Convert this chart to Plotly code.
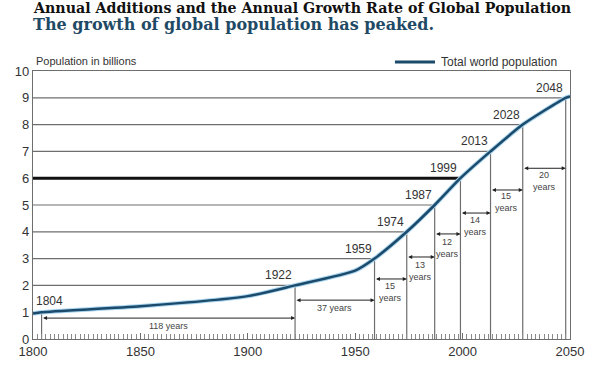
import plotly.graph_objects as go

# ---- data ----
curve_years = [1800, 1804, 1850, 1900, 1922, 1950, 1959, 1974, 1987, 1999, 2013, 2028, 2048, 2050]
curve_pop = [0.95, 1.0, 1.22, 1.6, 2.0, 2.55, 3.0, 4.0, 5.0, 6.0, 7.0, 8.0, 9.0, 9.05]

milestone_years = [1804, 1922, 1959, 1974, 1987, 1999, 2013, 2028, 2048]
milestone_pop = [1, 2, 3, 4, 5, 6, 7, 8, 9]

interval_labels = ["118 years", "37 years", "15<br>years", "13<br>years", "12<br>years",
                   "14<br>years", "15<br>years", "20<br>years"]
arrow_levels = [0.78, 1.45, 2.24, 3.06, 3.92, 4.7, 5.56, 6.37]
label_levels = [0.5, 1.15, 1.75, 2.55, 3.38, 4.2, 5.1, 5.88]

x_ticks = [1800, 1850, 1900, 1950, 2000, 2050]
y_ticks = [0, 1, 2, 3, 4, 5, 6, 7, 8, 9, 10]

GRID = "#6e6e6e"
CURVE = "#1b4a6b"
TXT = "#333333"

fig = go.Figure()

shapes = []
for yr, p in zip(milestone_years, milestone_pop):
    thick = (p == 6)
    shapes.append(dict(type="line", xref="x", yref="y", x0=1800, x1=yr, y0=p, y1=p,
                       line=dict(color="#111111" if thick else GRID, width=3 if thick else 1.2),
                       layer="below"))
    shapes.append(dict(type="line", xref="x", yref="y", x0=yr, x1=yr, y0=0, y1=p,
                       line=dict(color=GRID, width=1.2), layer="below"))

# legend sample line (drawn manually above the plot)
shapes.append(dict(type="line", xref="paper", yref="paper", x0=0.674, x1=0.7486,
                   y0=1.034, y1=1.034, line=dict(color=CURVE, width=3)))

fig.add_trace(go.Scatter(x=curve_years, y=curve_pop, mode="lines",
                         line=dict(color="#a9d4ef", width=4.5, shape="spline", smoothing=0.6),
                         showlegend=False, hoverinfo="skip"))
fig.add_trace(go.Scatter(x=curve_years, y=curve_pop, mode="lines",
                         line=dict(color=CURVE, width=2.5, shape="spline", smoothing=0.6),
                         name="Total world population", showlegend=False))

annotations = []
for yr, p in zip(milestone_years, milestone_pop):
    if yr == milestone_years[0]:
        annotations.append(dict(x=1800, y=p, xref="x", yref="y", text=str(yr), showarrow=False,
                                xanchor="left", yanchor="bottom", xshift=1, yshift=2,
                                font=dict(family="Liberation Sans", size=12, color=TXT)))
    else:
        annotations.append(dict(x=yr, y=p, xref="x", yref="y", text=str(yr), showarrow=False,
                                xanchor="right", yanchor="bottom", xshift=-1, yshift=1,
                                font=dict(family="Liberation Sans", size=12, color=TXT)))
for i, lab in enumerate(interval_labels):
    x0 = milestone_years[i]
    x1 = milestone_years[i + 1]
    h = arrow_levels[i]
    annotations.append(dict(x=x1, y=h, ax=x0, ay=h, xref="x", yref="y", axref="x", ayref="y",
                            text="", showarrow=True, arrowhead=2, startarrowhead=2,
                            arrowside="end+start", arrowsize=0.8, arrowwidth=1,
                            arrowcolor="#222222"))
    annotations.append(dict(x=(x0 + x1) / 2, y=label_levels[i], xref="x", yref="y",
                            text=lab, showarrow=False, xanchor="center", yanchor="middle",
                            font=dict(family="Liberation Sans", size=9, color="#444444")))

annotations.append(dict(xref="paper", yref="paper", x=0.7560, xanchor="left", y=1.034,
                        yanchor="middle", showarrow=False, text="Total world population",
                        font=dict(family="Liberation Sans", size=12, color=TXT)))
annotations.append(dict(xref="paper", yref="paper", x=0.002, y=1.0, xanchor="left",
                        yanchor="bottom", yshift=2, text="Population in billions",
                        showarrow=False, font=dict(family="Liberation Sans", size=11, color=TXT)))
annotations.append(dict(xref="paper", yref="paper", x=-0.004, xanchor="left", y=1 + 63 / 268,
                        yanchor="middle", showarrow=False,
                        text="<b>Annual Additions and the Annual Growth Rate of Global Population</b>",
                        font=dict(family="DejaVu Serif", size=14.2, color="#111111")))
annotations.append(dict(xref="paper", yref="paper", x=-0.004, xanchor="left", y=1 + 47 / 268,
                        yanchor="middle", showarrow=False,
                        text="<b>The growth of global population has peaked.</b>",
                        font=dict(family="DejaVu Serif", size=16, color="#1f4a66")))

fig.update_layout(
    width=600, height=369,
    margin=dict(l=33, r=30, t=71, b=30),
    paper_bgcolor="white", plot_bgcolor="white",
    shapes=shapes,
    annotations=annotations,
    showlegend=False,
    xaxis=dict(range=[1800, 2050], tickvals=x_ticks, ticktext=[str(v) for v in x_ticks],
               automargin=False,
               showgrid=False, zeroline=False, showline=True, linecolor=GRID, linewidth=1.2,
               mirror=True, ticks="inside", ticklen=6, tickcolor=GRID,
               minor=dict(dtick=2, ticks="inside", ticklen=5, tickcolor="#8a8a8a"),
               tickfont=dict(family="Liberation Sans", size=13, color=TXT)),
    yaxis=dict(range=[0, 10], tickvals=y_ticks, showgrid=False, zeroline=False,
               automargin=False,
               showline=True, linecolor=GRID, linewidth=1.2, mirror=True, ticks="",
               tickfont=dict(family="Liberation Sans", size=13, color=TXT)),
)

# remove the browser's default 8px page margin so the figure fills the window
fig.write_html("out.html", config={"displayModeBar": False},
               post_script="document.body.style.margin='0';")
